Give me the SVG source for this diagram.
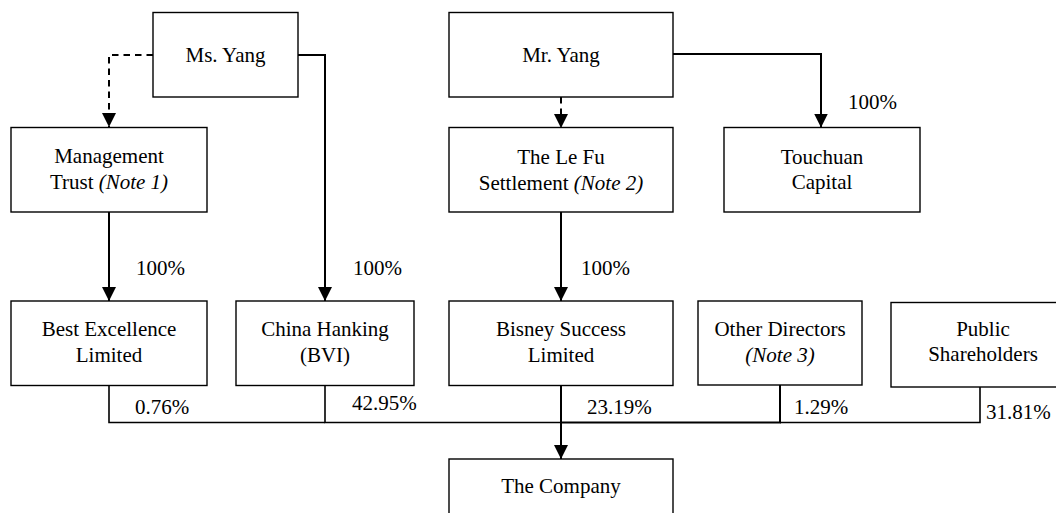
<svg xmlns="http://www.w3.org/2000/svg" width="1056" height="513" viewBox="0 0 1056 513">
<style>
.box{fill:#fff;stroke:#000;stroke-width:1.4}
text{font-family:'Liberation Serif', 'DejaVu Serif', serif;font-size:21px;fill:#000}
.c{text-anchor:middle}
.i{font-style:italic}
.ln{fill:none;stroke:#000;stroke-width:2}
.dash{stroke-dasharray:6.5 5}
.bus{fill:none;stroke:#000;stroke-width:1.6}
</style>
<defs>
<marker id="arr" viewBox="0 0 14 14" refX="14" refY="7" markerWidth="14" markerHeight="14" orient="auto" markerUnits="userSpaceOnUse">
<path d="M0,0 L14,7 L0,14 z" fill="#000"/>
</marker>
</defs>
<rect width="1056" height="513" fill="#fff"/>
<g id="connectors" font-family="Liberation Serif, serif">
<path class="ln dash" d="M153,55 H109 V127" marker-end="url(#arr)"/>
<path class="ln" d="M298,55 H325 V301" marker-end="url(#arr)"/>
<path class="ln dash" d="M561,97 V128" marker-end="url(#arr)"/>
<path class="ln" d="M673,54 H821 V127.5" marker-end="url(#arr)"/>
<path class="ln" d="M109,212 V301" marker-end="url(#arr)"/>
<path class="ln" d="M561,212 V301" marker-end="url(#arr)"/>
<path class="bus" d="M109,385.5 V422.5 H325"/>
<path class="bus" d="M325,385.5 V422.5 H561"/>
<path class="ln" d="M561,385.5 V459" marker-end="url(#arr)"/>
<path class="ln" d="M780,385 V422.5 H561"/>
<path class="bus" d="M980,387 V422.5 H780"/>
<text x="848" y="109">100%</text>
<text x="136" y="275">100%</text>
<text x="353" y="275">100%</text>
<text x="581" y="275">100%</text>
<text x="135" y="414">0.76%</text>
<text x="352" y="410">42.95%</text>
<text x="587" y="414">23.19%</text>
<text x="794" y="414">1.29%</text>
<text x="986" y="419">31.81%</text>
</g>
<g id="ms-yang">
<rect class="box" x="153" y="12.5" width="145" height="84.5"/>
<text class="c" x="225.5" y="62">Ms. Yang</text>
</g>
<g id="mr-yang">
<rect class="box" x="449" y="12.5" width="224" height="84.5"/>
<text class="c" x="561" y="62">Mr. Yang</text>
</g>
<g id="management-trust">
<rect class="box" x="11" y="127.5" width="196" height="84.5"/>
<text class="c" x="109" y="163">Management</text>
<text class="c" x="109" y="189">Trust <tspan class="i">(Note 1)</tspan></text>
</g>
<g id="le-fu">
<rect class="box" x="449" y="127.5" width="224" height="84.5"/>
<text class="c" x="561" y="164">The Le Fu</text>
<text class="c" x="561" y="190">Settlement <tspan class="i">(Note 2)</tspan></text>
</g>
<g id="touchuan">
<rect class="box" x="724" y="127.5" width="196" height="84.5"/>
<text class="c" x="822" y="164">Touchuan</text>
<text class="c" x="822" y="189">Capital</text>
</g>
<g id="best-excellence">
<rect class="box" x="11" y="301" width="196" height="84.5"/>
<text class="c" x="109" y="336">Best Excellence</text>
<text class="c" x="109" y="362">Limited</text>
</g>
<g id="china-hanking">
<rect class="box" x="236" y="301" width="178" height="84.5"/>
<text class="c" x="325" y="336">China Hanking</text>
<text class="c" x="325" y="362">(BVI)</text>
</g>
<g id="bisney">
<rect class="box" x="449" y="301" width="224" height="84.5"/>
<text class="c" x="561" y="336">Bisney Success</text>
<text class="c" x="561" y="362">Limited</text>
</g>
<g id="other-directors">
<rect class="box" x="698" y="301" width="164" height="84"/>
<text class="c" x="780" y="336">Other Directors</text>
<text class="c i" x="780" y="362">(Note 3)</text>
</g>
<g id="public-shareholders">
<rect class="box" x="891" y="302.5" width="190" height="84.5"/>
<text class="c" x="983" y="336">Public</text>
<text class="c" x="983" y="361">Shareholders</text>
</g>
<g id="the-company">
<rect class="box" x="449" y="459" width="224" height="90"/>
<text class="c" x="561" y="493">The Company</text>
</g>
</svg>
